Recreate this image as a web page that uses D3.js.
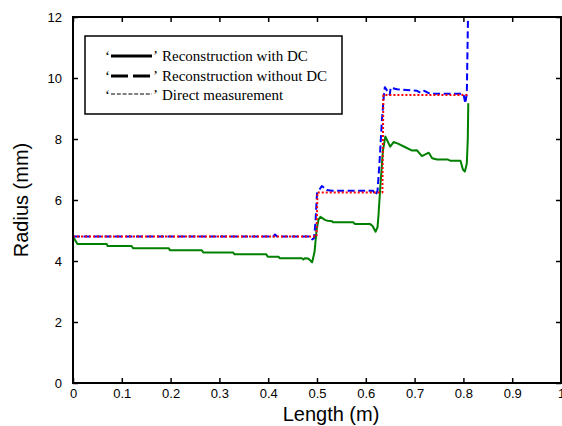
<!DOCTYPE html>
<html>
<head>
<meta charset="utf-8">
<script src="https://cdn.jsdelivr.net/npm/d3@7"></script>
<style>
    body { margin: 0; background: #fff; }
    svg { display: block; }
    .tick-label { font-family: "Liberation Sans", Arial, sans-serif; font-size: 13px; fill: #000; }
    .axis-title { font-family: "Liberation Sans", Arial, sans-serif; font-size: 20px; fill: #000; }
    .legend-text { font-family: "Liberation Serif", "Times New Roman", serif; font-size: 15px; fill: #000; }
</style>
</head>
<body>
<div id="chart"></div>
<script>
// Data
const xTicks = [0, 0.1, 0.2, 0.3, 0.4, 0.5, 0.6, 0.7, 0.8, 0.9, 1];
const yTicks = [0, 2, 4, 6, 8, 10, 12];

const withDcX = [0, 0.009, 0.069, 0.071, 0.12, 0.123, 0.196, 0.199, 0.264, 0.267, 0.328, 0.331,
    0.396, 0.399, 0.421, 0.424, 0.469, 0.472, 0.475, 0.482, 0.49, 0.495, 0.499, 0.503, 0.507,
    0.517, 0.522, 0.531, 0.533, 0.574, 0.578, 0.609, 0.614, 0.62, 0.624, 0.626, 0.63, 0.635,
    0.64, 0.65, 0.657, 0.667, 0.681, 0.695, 0.705, 0.715, 0.729, 0.736, 0.746, 0.767, 0.773,
    0.794, 0.799, 0.803, 0.807, 0.809, 0.81];
const withDcY = [4.8, 4.56, 4.56, 4.49, 4.49, 4.42, 4.42, 4.35, 4.35, 4.28, 4.28, 4.22,
    4.22, 4.14, 4.14, 4.09, 4.09, 4.05, 4.09, 4.08, 3.96, 4.3, 5.0, 5.35, 5.45,
    5.34, 5.32, 5.3, 5.27, 5.27, 5.21, 5.21, 5.15, 4.96, 5.1, 5.5, 6.5, 7.6,
    8.08, 7.75, 7.9, 7.84, 7.73, 7.62, 7.63, 7.44, 7.55, 7.37, 7.33, 7.33, 7.29,
    7.29, 7.0, 6.93, 7.2, 8.0, 9.17];

const withoutDcX = [0, 0.41, 0.414, 0.418, 0.485, 0.49, 0.494, 0.497, 0.5, 0.51, 0.52, 0.53,
    0.615, 0.62, 0.624, 0.628, 0.633, 0.637, 0.639, 0.649, 0.651, 0.664, 0.705, 0.712,
    0.72, 0.732, 0.8, 0.804, 0.807, 0.81];
const withoutDcY = [4.8, 4.8, 4.87, 4.8, 4.8, 4.71, 4.75, 5.3, 6.22, 6.46, 6.33, 6.3,
    6.3, 6.16, 6.3, 7.2, 8.6, 9.44, 9.7, 9.45, 9.68, 9.63, 9.58, 9.52,
    9.58, 9.48, 9.48, 9.17, 9.5, 12.6];

const directX = [0, 0.499, 0.501, 0.634, 0.636, 0.808];
const directY = [4.8, 4.8, 6.25, 6.25, 9.44, 9.44];

const legendLabels = ['Reconstruction with DC', 'Reconstruction without DC', 'Direct measurement'];

function chart() {
    let svg;
    let width = 562;
    let height = 426;
    let margin = { top: 17, right: 1, bottom: 43, left: 73 };
    let chartWidth = width - margin.left - margin.right;
    let chartHeight = height - margin.top - margin.bottom;
    let xScale;
    let yScale;

    const series = [
        { xs: withDcX, ys: withDcY, color: '#008000', dash: null },
        { xs: withoutDcX, ys: withoutDcY, color: '#0000ff', dash: '7,3.5' },
        { xs: directX, ys: directY, color: '#ff0000', dash: '2,2' }
    ];

    function buildScales() {
        xScale = d3.scaleLinear().domain([0, 1]).range([0, chartWidth]);
        yScale = d3.scaleLinear().domain([0, 12]).range([chartHeight, 0]);
    }

    function buildSVG(container) {
        svg = d3.select(container)
          .append('svg')
            .attr('width', width)
            .attr('height', height);

        svg.append('defs')
          .append('clipPath')
            .attr('id', 'plot-clip')
          .append('rect')
            .attr('width', chartWidth)
            .attr('height', chartHeight);

        svg.append('g')
            .classed('container-group', true)
            .attr('transform', `translate(${margin.left},${margin.top})`);
    }

    function drawLines() {
        const g = svg.select('.container-group')
          .append('g')
            .attr('clip-path', 'url(#plot-clip)');

        const line = d3.line()
            .x(d => xScale(d[0]))
            .y(d => yScale(d[1]));

        series.forEach(s => {
            const pts = s.xs.map((x, i) => [x, s.ys[i]]);
            g.append('path')
                .datum(pts)
                .attr('fill', 'none')
                .attr('stroke', s.color)
                .attr('stroke-width', 2)
                .attr('stroke-dasharray', s.dash)
                .attr('stroke-linejoin', 'round')
                .attr('d', line);
        });
    }

    function drawAxes() {
        const g = svg.select('.container-group');
        const tickLen = 5;

        // inward ticks on all four sides, MATLAB style
        const bottom = d3.axisBottom(xScale).tickValues(xTicks).tickSize(-tickLen).tickPadding(6)
            .tickFormat(d3.format('~g'));
        const top = d3.axisTop(xScale).tickValues(xTicks).tickSize(-tickLen).tickFormat('');
        const left = d3.axisLeft(yScale).tickValues(yTicks).tickSize(-tickLen).tickPadding(11);
        const right = d3.axisRight(yScale).tickValues(yTicks).tickSize(-tickLen).tickFormat('');

        g.append('g').attr('transform', `translate(0,${chartHeight})`).call(bottom);
        g.append('g').call(top);
        g.append('g').call(left);
        g.append('g').attr('transform', `translate(${chartWidth},0)`).call(right);

        g.selectAll('.tick line').attr('stroke', '#000').attr('stroke-width', 1.5);
        g.selectAll('.tick text').attr('class', 'tick-label').attr('font-size', null).attr('font-family', null);
        g.selectAll('.domain').remove();

        g.append('rect')
            .attr('width', chartWidth)
            .attr('height', chartHeight)
            .attr('fill', 'none')
            .attr('stroke', '#000')
            .attr('stroke-width', 2);

        svg.append('text')
            .attr('class', 'axis-title')
            .attr('x', 331)
            .attr('y', 421)
            .attr('text-anchor', 'middle')
            .text('Length (m)');

        svg.append('text')
            .attr('class', 'axis-title')
            .attr('transform', `translate(28,${margin.top + chartHeight / 2}) rotate(-90)`)
            .attr('text-anchor', 'middle')
            .text('Radius (mm)');
    }

    function drawLegend() {
        const lg = svg.append('g').classed('legend', true);
        const box = { x: 85, y: 36, w: 257, h: 78 };

        lg.append('rect')
            .attr('x', box.x)
            .attr('y', box.y)
            .attr('width', box.w)
            .attr('height', box.h)
            .attr('fill', '#fff')
            .attr('stroke', '#000')
            .attr('stroke-width', 1.5);

        const rows = [
            { y: 61, width: 3, dash: null },
            { y: 81, width: 3, dash: '17,5' },
            { y: 100, width: 1, dash: '4,1.8' }
        ];

        rows.forEach((r, i) => {
            const lineY = r.y - 5 + (i === 2 ? -1 : 0);
            lg.append('text').attr('class', 'legend-text').attr('x', 105).attr('y', r.y).text('\u2018');
            lg.append('line')
                .attr('x1', 111).attr('x2', 152)
                .attr('y1', lineY).attr('y2', lineY)
                .attr('stroke', '#000')
                .attr('stroke-width', r.width)
                .attr('stroke-dasharray', r.dash);
            lg.append('text').attr('class', 'legend-text').attr('x', 153).attr('y', r.y).text('\u2019');
            lg.append('text').attr('class', 'legend-text').attr('x', 162).attr('y', r.y).text(legendLabels[i]);
        });
    }

    return function(container) {
        buildScales();
        buildSVG(container);
        drawLines();
        drawAxes();
        drawLegend();
    };
}

chart()(document.getElementById('chart'));
</script>
</body>
</html>
